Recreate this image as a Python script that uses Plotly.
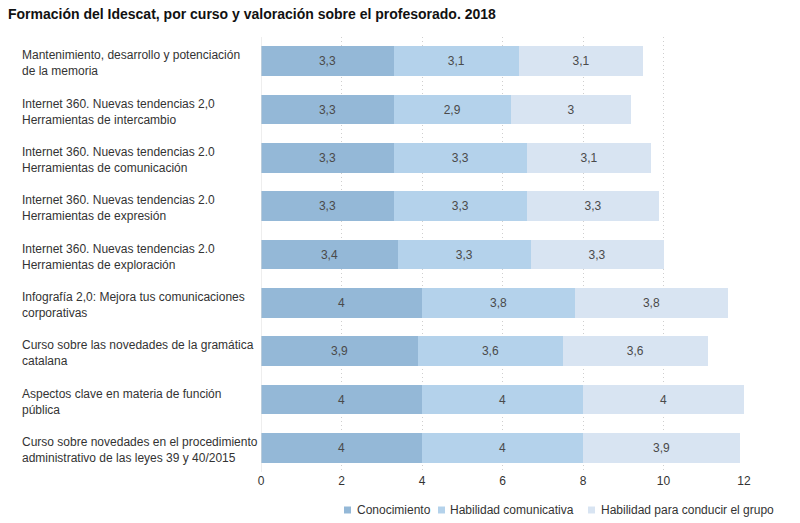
import plotly.graph_objects as go

categories = [
    "Mantenimiento, desarrollo y potenciación<br>de la memoria",
    "Internet 360. Nuevas tendencias 2,0<br>Herramientas de intercambio",
    "Internet 360. Nuevas tendencias 2.0<br>Herramientas de comunicación",
    "Internet 360. Nuevas tendencias 2.0<br>Herramientas de expresión",
    "Internet 360. Nuevas tendencias 2.0<br>Herramientas de exploración",
    "Infografía 2,0: Mejora tus comunicaciones<br>corporativas",
    "Curso sobre las novedades de la gramática<br>catalana",
    "Aspectos clave en materia de función<br>pública",
    "Curso sobre novedades en el procedimiento<br>administrativo de las leyes 39 y 40/2015",
]
conocimiento = [3.3, 3.3, 3.3, 3.3, 3.4, 4, 3.9, 4, 4]
habilidad_comunicativa = [3.1, 2.9, 3.3, 3.3, 3.3, 3.8, 3.6, 4, 4]
habilidad_conducir = [3.1, 3, 3.1, 3.3, 3.3, 3.8, 3.6, 4, 3.9]
series_names = ["Conocimiento", "Habilidad comunicativa", "Habilidad para conducir el grupo"]
colors = ["#94b8d7", "#b4d2eb", "#d8e4f2"]
x_ticks = [0, 2, 4, 6, 8, 10, 12]
title = "Formación del Idescat, por curso y valoración sobre el profesorado. 2018"

FONT = "Liberation Sans, Arial, sans-serif"
ids = list(range(len(categories)))

def fmt(v):
    return ("%g" % v).replace(".", ",")

fig = go.Figure()
for name, vals, col in zip(series_names, [conocimiento, habilidad_comunicativa, habilidad_conducir], colors):
    fig.add_trace(go.Bar(
        y=ids, x=vals, name=name, orientation="h",
        marker=dict(color=col, line=dict(width=0)),
        text=[fmt(v) for v in vals], textposition="inside",
        insidetextanchor="middle",
        textfont=dict(family=FONT, size=12, color="#4a4a4a"),
        constraintext="none",
        hoverinfo="x+name",
        showlegend=False,
    ))

L, R, T, B = 261, 56, 37, 51
W, H = 800, 523
pw = W - L - R
ph = H - T - B

def px_x(p):
    return (p - L) / pw

def px_y(p):
    return (H - B - p) / ph

annotations = []
for i, c in enumerate(categories):
    annotations.append(dict(
        x=px_x(20), xref="paper", xanchor="left",
        y=i, yref="y", yanchor="middle", yshift=-2,
        text=c, showarrow=False, align="left",
        font=dict(family=FONT, size=12, color="#333333"),
    ))

# manual compact legend
shapes = []
legend_sq_x = [344, 438, 588]
legend_txt_x = [355, 448, 599]
legend_y = 510
for name, col, sx, tx in zip(series_names, colors, legend_sq_x, legend_txt_x):
    shapes.append(dict(type="rect", xref="paper", yref="paper",
                       x0=px_x(sx), x1=px_x(sx + 7), y0=px_y(legend_y + 3.5), y1=px_y(legend_y - 3.5),
                       fillcolor=col, line=dict(width=0)))
    annotations.append(dict(x=px_x(tx), xref="paper", xanchor="left",
                            y=px_y(legend_y), yref="paper", yanchor="middle",
                            text=name, showarrow=False,
                            font=dict(family=FONT, size=12, color="#333333")))

shapes.append(dict(type="line", xref="x", yref="paper", x0=0, x1=0, y0=0, y1=1,
                   line=dict(color="#dddddd", width=1)))

fig.update_layout(
    width=W, height=H,
    barmode="stack", bargap=0.38,
    margin=dict(l=L, r=R, t=T, b=B),
    plot_bgcolor="white", paper_bgcolor="white",
    title=dict(text="<b>" + title + "</b>", x=8 / W, xanchor="left", y=1 - 14 / H, yanchor="middle",
               font=dict(family=FONT, size=14, color="#111111")),
    font=dict(family=FONT, size=12, color="#333333"),
    xaxis=dict(range=[0, 12], tickvals=x_ticks, showgrid=True, gridcolor="#cfcfcf",
               griddash="1px,3px", gridwidth=1, zeroline=False, showline=False, ticks="",
               tickfont=dict(size=12, color="#333333")),
    yaxis=dict(tickvals=ids, showticklabels=False, showgrid=False,
               zeroline=False, showline=False, range=[len(categories) - 0.5, -0.5]),
    annotations=annotations,
    shapes=shapes,
    showlegend=False,
)

fig.write_html("out.html", config={"displayModeBar": False},
               post_script="document.body.style.margin='0px';")
